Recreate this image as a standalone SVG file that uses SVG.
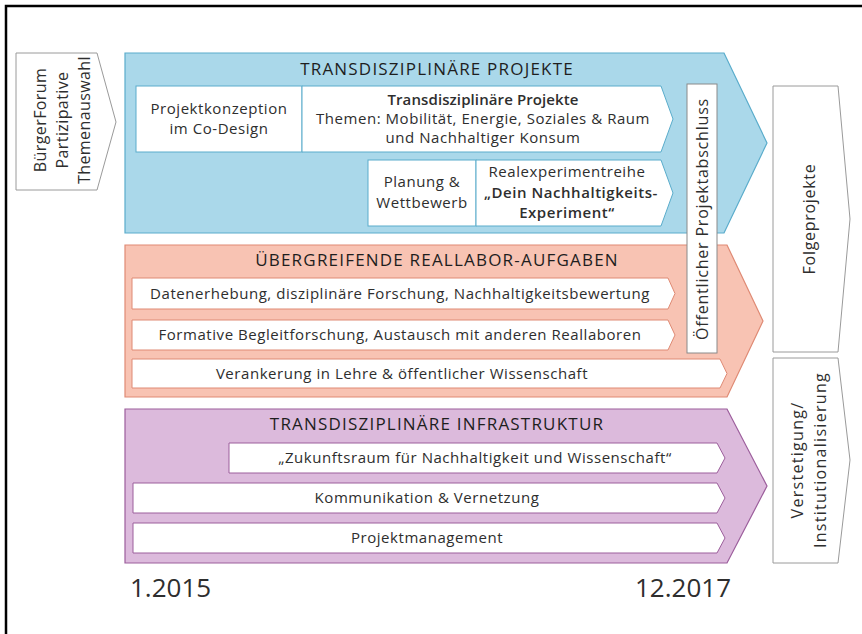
<svg xmlns="http://www.w3.org/2000/svg" width="862" height="634" viewBox="0 0 862 634">
  <style>
    text { font-family: "Open Sans", "Liberation Sans", sans-serif; fill: #2e2e2e; }
    .t { font-size: 15px; text-anchor: middle; letter-spacing: 0.55px; }
    .b { font-weight: 600; }
    .h { font-size: 17px; text-anchor: middle; letter-spacing: 1.2px; fill: #1e1e1e; }
    .d { font-size: 26px; }
    .r { font-size: 16px; text-anchor: middle; letter-spacing: 0.8px; }
    .rl { font-size: 16px; text-anchor: middle; letter-spacing: 0.4px; }
    .gray { fill: #ffffff; stroke: #9a9a9a; stroke-width: 1; }
    .bluebg { fill: #aad8ea; stroke: #5aaccb; stroke-width: 1.2; }
    .bluebox { fill: #ffffff; stroke: #5aaccb; stroke-width: 1; }
    .orbg { fill: #f8c3b3; stroke: #df8a74; stroke-width: 1.2; }
    .orbox { fill: #ffffff; stroke: #df8a74; stroke-width: 1; }
    .pubg { fill: #dcbadc; stroke: #9c5e9c; stroke-width: 1.2; }
    .pubox { fill: #ffffff; stroke: #9c5e9c; stroke-width: 1; }
  </style>

  <rect x="0" y="0" width="862" height="634" fill="#ffffff"/>
  <!-- frame -->
  <path d="M6,634 V6 H862" fill="none" stroke="#000000" stroke-width="2.5"/>

  <!-- input: citizens' forum -->
  <g id="buergerforum">
    <path class="gray" d="M16,53 H97 L116,122 L97,190 H16 Z"/>
    <text class="rl" transform="translate(46,120) rotate(-90)">BürgerForum</text>
    <text class="rl" transform="translate(68,120) rotate(-90)">Partizipative</text>
    <text class="rl" transform="translate(90,120) rotate(-90)">Themenauswahl</text>
  </g>

  <!-- lane 1: projects -->
  <g id="projekte">
    <path class="bluebg" d="M125,53 H724 L767,143 L724,233 H125 Z"/>
    <text class="h" x="437" y="75">TRANSDISZIPLINÄRE PROJEKTE</text>
  </g>
  <g id="projektkonzeption">
    <rect class="bluebox" x="136" y="86" width="166" height="66"/>
    <text class="t" x="219" y="114">Projektkonzeption</text>
    <text class="t" x="219" y="134">im Co-Design</text>
  </g>
  <g id="td-projekte">
    <path class="bluebox" d="M302,86 H661 L673,119 L661,152 H302 Z"/>
    <text class="t b" x="483" y="105" style="letter-spacing:0.1px">Transdisziplinäre Projekte</text>
    <text class="t" x="483" y="124">Themen: Mobilität, Energie, Soziales &amp; Raum</text>
    <text class="t" x="483" y="143">und Nachhaltiger Konsum</text>
  </g>
  <g id="planung">
    <rect class="bluebox" x="368" y="160" width="108" height="66"/>
    <text class="t" x="422" y="187">Planung &amp;</text>
    <text class="t" x="422" y="208">Wettbewerb</text>
  </g>
  <g id="realexperiment">
    <path class="bluebox" d="M476,160 H661 L673,193 L661,226 H476 Z"/>
    <text class="t" x="567" y="177">Realexperimentreihe</text>
    <text class="t b" x="571" y="198">„Dein Nachhaltigkeits-</text>
    <text class="t b" x="567" y="218">Experiment“</text>
  </g>

  <!-- lane 2: cross-cutting tasks -->
  <g id="reallabor">
    <path class="orbg" d="M125,245 H727 L763,321 L727,397 H125 Z"/>
    <text class="h" x="437" y="266">ÜBERGREIFENDE REALLABOR-AUFGABEN</text>
  </g>
  <g id="datenerhebung">
    <path class="orbox" d="M132,278 H668 L675,293.5 L668,309 H132 Z"/>
    <text class="t" x="400" y="299">Datenerhebung, disziplinäre Forschung, Nachhaltigkeitsbewertung</text>
  </g>
  <g id="begleitforschung">
    <path class="orbox" d="M132,320 H668 L675,335 L668,350 H132 Z"/>
    <text class="t" x="400" y="340">Formative Begleitforschung, Austausch mit anderen Reallaboren</text>
  </g>
  <g id="verankerung">
    <path class="orbox" d="M132,359 H720 L727,373.5 L720,388 H132 Z"/>
    <text class="t" x="402" y="379">Verankerung in Lehre &amp; öffentlicher Wissenschaft</text>
  </g>

  <!-- lane 3: infrastructure -->
  <g id="infrastruktur">
    <path class="pubg" d="M125,409 H727 L767,486 L727,563 H125 Z"/>
    <text class="h" x="437" y="430">TRANSDISZIPLINÄRE INFRASTRUKTUR</text>
  </g>
  <g id="zukunftsraum">
    <path class="pubox" d="M229,443 H717 L725,458 L717,473 H229 Z"/>
    <text class="t" x="475" y="463">„Zukunftsraum für Nachhaltigkeit und Wissenschaft“</text>
  </g>
  <g id="kommunikation">
    <path class="pubox" d="M133,483 H717 L725,498 L717,513 H133 Z"/>
    <text class="t" x="427" y="503">Kommunikation &amp; Vernetzung</text>
  </g>
  <g id="projektmanagement">
    <path class="pubox" d="M133,523 H717 L725,538 L717,553 H133 Z"/>
    <text class="t" x="427" y="543">Projektmanagement</text>
  </g>

  <!-- project closing event -->
  <g id="projektabschluss">
    <rect x="687" y="84" width="30" height="269" fill="#ffffff" stroke="#8a8a8a" stroke-width="1"/>
    <text class="r" transform="translate(708,219) rotate(-90)">Öffentlicher Projektabschluss</text>
  </g>

  <!-- outputs -->
  <g id="folgeprojekte">
    <path class="gray" d="M773,86 H838 L850,219 L838,352 H773 Z"/>
    <text class="r" transform="translate(815,219) rotate(-90)" style="letter-spacing:0.7px">Folgeprojekte</text>
  </g>
  <g id="verstetigung">
    <path class="gray" d="M773,358 H838 L850,460 L838,563 H773 Z"/>
    <text class="r" transform="translate(803,460) rotate(-90)" style="letter-spacing:1.3px">Verstetigung/</text>
    <text class="r" transform="translate(826,460) rotate(-90)" style="letter-spacing:1.3px">Institutionalisierung</text>
  </g>

  <!-- timeline -->
  <text class="d" x="130" y="597">1.2015</text>
  <text class="d" x="731" y="597" text-anchor="end">12.2017</text>
</svg>
